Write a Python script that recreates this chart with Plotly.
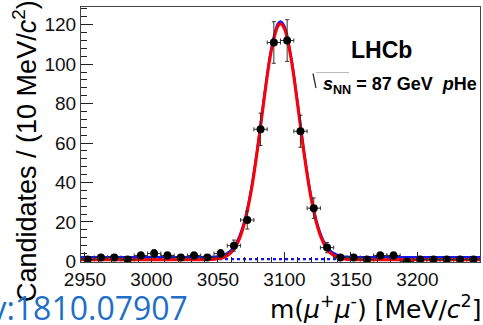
import plotly.graph_objects as go

# ---------------- data ----------------
bin_centers = [2952, 2962, 2972, 2982, 2992, 3002, 3012, 3022, 3032, 3042,
               3052, 3062, 3072, 3082, 3092, 3102, 3112, 3122, 3132, 3142,
               3152, 3162, 3172, 3182, 3192, 3202, 3212, 3222, 3232, 3242]
counts = [1, 2, 2, 1, 3, 4, 3, 2, 3, 2,
          4, 8, 21, 67, 111, 112, 66, 27, 7, 2,
          2, 1, 3, 3, 0, 1, 1, 1, 1, 1]
bin_half_width = 5

# fitted curves
curve_x = [2947, 3000, 3040, 3045, 3050, 3055, 3060, 3065, 3070, 3075, 3080,
           3085, 3090, 3095, 3097, 3100, 3105, 3110, 3115, 3120, 3125, 3130,
           3135, 3140, 3145, 3150, 3200, 3247]
signal_curve = [0.9, 0.9, 0.9, 1.0, 1.3, 2.2, 4.5, 9.7, 19.6, 35.7, 58.1,
                83.8, 106.4, 119.2, 120.5, 117.9, 102.5, 78.7, 53.2, 31.9, 17.1, 8.3,
                3.9, 2.0, 1.2, 1.0, 0.9, 0.9]
background_level = 1.2
bkg_x = [2947, 3247]
bkg_y = [background_level, background_level]
total_curve = [v + background_level for v in signal_curve]

x_ticks = [2950, 3000, 3050, 3100, 3150, 3200]
y_ticks = [0, 20, 40, 60, 80, 100, 120]

err_y = [c ** 0.5 for c in counts]

# ---------------- geometry helpers (decoration only) ----------------
W, H = 483, 325
ML, MR, MT, MB = 81, 3, 7, 63
PW, PH = W - ML - MR, H - MT - MB


def px(xp):
    return (xp - ML) / PW


def py(yp):
    return (H - MB - yp) / PH


fig = go.Figure()

fig.add_trace(go.Scatter(x=bkg_x, y=bkg_y, mode="lines",
                         line=dict(color="#1010ff", width=2.2, dash="dot"),
                         hoverinfo="skip"))
fig.add_trace(go.Scatter(x=curve_x, y=total_curve, mode="lines",
                         line=dict(color="#1414ff", width=2.5, shape="spline"),
                         hoverinfo="skip"))
fig.add_trace(go.Scatter(x=curve_x, y=signal_curve, mode="lines",
                         line=dict(color="#ff0000", width=3, shape="spline"),
                         hoverinfo="skip"))
fig.add_trace(go.Scatter(
    x=bin_centers, y=counts, mode="markers",
    marker=dict(color="black", size=8),
    error_y=dict(type="data", array=err_y, color="#333333", thickness=1, width=2),
    error_x=dict(type="constant", value=bin_half_width, color="#333333", thickness=1, width=2),
))

font_main = "Liberation Sans, Arial, sans-serif"

fig.update_layout(
    width=W, height=H,
    margin=dict(l=ML, r=MR, t=MT, b=MB),
    paper_bgcolor="white", plot_bgcolor="white",
    showlegend=False,
    xaxis=dict(range=[2947, 3247], tickvals=x_ticks, ticks="inside", ticklen=10,
               tickcolor="#222", showline=True, linecolor="#444", linewidth=1,
               mirror=True, showgrid=False, zeroline=False,
               tickfont=dict(family=font_main, size=19, color="#111"),
               minor=dict(ticks="inside", ticklen=5, dtick=10, tick0=2950,
                          tickcolor="#222", showgrid=False)),
    yaxis=dict(range=[-0.3, 129], tickvals=y_ticks, ticks="inside", ticklen=12,
               tickcolor="#222", showline=True, linecolor="#444", linewidth=1,
               mirror=True, showgrid=False, zeroline=False,
               tickfont=dict(family=font_main, size=19, color="#111"),
               minor=dict(ticks="inside", ticklen=6, dtick=4, tick0=0,
                          tickcolor="#222", showgrid=False)),
)

annotations = [
    dict(text="Candidates / (10 MeV/<i>c</i><sup>2</sup>)", textangle=-90,
         x=px(25), y=py(151), xanchor="center", yanchor="middle",
         font=dict(family=font_main, size=27, color="black")),
    dict(text="m(<i>μ</i><sup>+</sup><i>μ</i><sup>-</sup>) [MeV/<i>c</i><sup>2</sup>]",
         x=px(484), y=py(307), xanchor="right", yanchor="middle",
         font=dict(family="DejaVu Sans, sans-serif", size=25, color="black")),
    dict(text="arXiv:1810.07907", x=px(190), y=py(307), xanchor="right", yanchor="middle",
         font=dict(family="Open Sans, sans-serif", size=32, color="#1f6fc6")),
    dict(text="<b>LHCb</b>", x=px(381), y=py(50.5), xanchor="center", yanchor="middle",
         font=dict(family=font_main, size=23, color="black")),
    dict(text="<b><i>s</i></b><sub><b>NN</b></sub><b> = 87 GeV\u00a0\u00a0<i>p</i>He</b>",
         x=px(479), y=py(85), xanchor="right", yanchor="middle",
         font=dict(family=font_main, size=18, color="black")),
]
for a in annotations:
    a.update(xref="paper", yref="paper", showarrow=False)
fig.update_layout(annotations=annotations)

# square-root sign decoration
fig.add_shape(type="line", xref="paper", yref="paper",
              x0=px(313), y0=py(73.5), x1=px(316), y1=py(88),
              line=dict(color="#333", width=1.3))
fig.add_shape(type="line", xref="paper", yref="paper",
              x0=px(316), y0=py(72.5), x1=px(349), y1=py(72.5),
              line=dict(color="#bbb", width=1))

fig.write_html("out.html")
